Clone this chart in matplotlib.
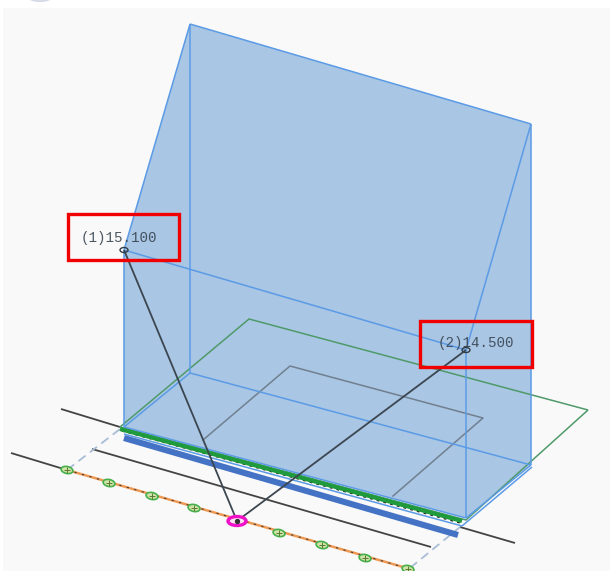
import matplotlib
matplotlib.use("Agg")
import matplotlib.pyplot as plt
from matplotlib.patches import Polygon, Rectangle, Ellipse, Arc

# Geometry (pixel coordinates of the drawing)
volume_outline = [(190, 24), (531, 124), (531, 465), (466, 518), (124, 427), (124, 250)]
volume_edges = [
    [(190, 24), (531, 124)], [(190, 24), (124, 250)], [(531, 124), (466, 350)],
    [(124, 250), (466, 350)], [(190, 24), (190, 373)], [(531, 124), (531, 465)],
    [(124, 250), (124, 427)], [(466, 350), (466, 518)], [(190, 373), (531, 465)],
    [(124, 427), (190, 373)], [(466, 518), (531, 465)], [(124, 427), (466, 518)],
    [(124, 434), (462, 526)], [(462, 526), (532, 467)],
]
site_outline = [(249, 319), (588, 410), (466, 520), (120, 427)]
building_x = [203, 290, 483, 393]
building_y = [440, 366, 418, 496]
frontage_green = [(120, 429), (462, 521)]
frontage_blue = [(124, 438), (458, 535)]
road_lines = [
    [(61, 409), (120, 427)], [(460, 527), (515, 543)],
    [(92, 449), (431, 547)], [(11, 453), (67, 470)],
]
dashed_lines = [[(67, 470), (120, 429)], [(410, 568), (460, 527)]]
kerb_line = [(67, 470), (410, 569)]
kerb_x = [67, 109, 152, 194, 279, 322, 365, 408]
kerb_y = [470, 483, 496, 508, 533, 545, 558, 569]
origin = (237, 521)
points = [(124, 250), (466, 350)]
labels = ["(1)15.100", "(2)14.500"]
label_pos = [(81, 238), (438, 343)]
label_boxes = [(68, 214, 111, 46), (420, 321, 112, 46)]

BG = "#f9f9f9"
FILL = "#a9c6e4"
EDGE = "#5b9be6"

fig = plt.figure(figsize=(6.10, 5.71), dpi=100, facecolor="white")
ax = fig.add_axes([0, 0, 1, 1])
ax.set_xlim(0, 610)
ax.set_ylim(571, 0)
ax.axis("off")


def seg(p, **kw):
    ax.plot([p[0][0], p[1][0]], [p[0][1], p[1][1]], solid_capstyle="butt", **kw)


ax.add_patch(Rectangle((3, 8), 607, 563, fc=BG, ec="none", zorder=0))
ax.add_patch(Arc((40, -17), 44, 36, theta1=0, theta2=180, ec="#d5dbe8", lw=1.6, zorder=1))

for p in road_lines:
    seg(p, color="#444444", lw=1.3, zorder=2)
for p in dashed_lines:
    seg(p, color="#a9bdd6", lw=1.3, ls=(0, (5, 3)), zorder=2)
seg(kerb_line, color="#ee9a55", lw=1.8, zorder=2)
seg(kerb_line, color="#4a3a30", lw=0.8, ls=(0, (2, 5)), zorder=3)
for x, y in zip(kerb_x, kerb_y):
    ax.add_patch(Ellipse((x, y), 12, 7, angle=12, fc="#cfe3a8", ec="#45b04c", lw=1.2, zorder=4))
ax.scatter(kerb_x, kerb_y, s=14, marker="+", color="#5a7a30", linewidth=0.7, zorder=5)

ax.add_patch(Polygon(volume_outline, closed=True, fc=FILL, ec="none", zorder=3))
ax.add_patch(Polygon(site_outline, closed=True, fc="none", ec="#4f9a6a", lw=1.1, zorder=4))
ax.plot(building_x, building_y, color="#71808f", lw=1.1, zorder=4)
for p in volume_edges:
    seg(p, color=EDGE, lw=1.1, zorder=5)
seg(frontage_blue, color="#4472c4", lw=4.4, zorder=6)
seg(frontage_green, color="#1f9a3c", lw=3.0, zorder=6)
seg([(122, 431), (462, 523.5)], color="#222222", lw=1.0, ls=(0, (2, 3)), zorder=5.5)

for p in points:
    seg([origin, p], color="#3c4650", lw=1.3, zorder=7)
    ax.add_patch(Ellipse(p, 8, 5, fc="none", ec="#333b45", lw=1.0, zorder=8))
ax.add_patch(Ellipse(origin, 18, 9, fc="#fbe3f6", ec="#f010c8", lw=2.4, zorder=8))
ax.plot(*origin, marker="o", ms=2.8, color="#333333", zorder=9)

for s, (x, y) in zip(labels, label_pos):
    ax.text(x, y, s, family="Liberation Mono", fontsize=10.2, color="#34404c", alpha=0.88,
            va="center", ha="left", zorder=10)
for x, y, w, h in label_boxes:
    ax.add_patch(Rectangle((x, y), w, h, fc="none", ec="#f00000", lw=2.4, zorder=11))

fig.savefig("out.png", dpi=100, facecolor="white")
